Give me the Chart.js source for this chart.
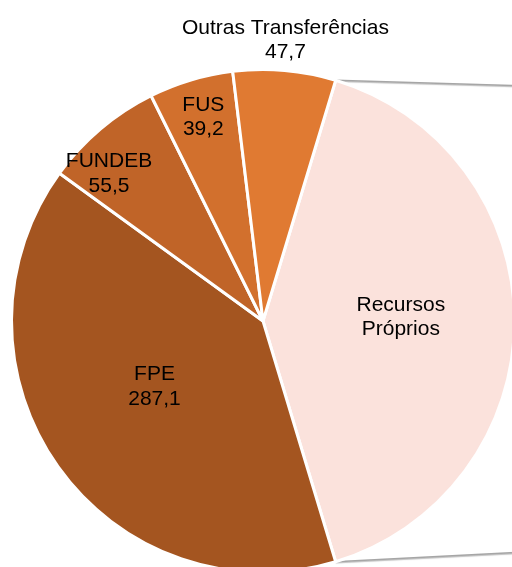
<!DOCTYPE html>
<html>
<head>
<meta charset="utf-8">
<style>
  html, body { margin: 0; padding: 0; background: #fff; }
  #wrap { position: relative; width: 512px; height: 567px; overflow: hidden; }
  #chart { position: absolute; left: 0; top: 0; }
</style>
</head>
<body>
<div id="wrap"><canvas id="chart" width="520" height="600"></canvas></div>
<script src="https://cdn.jsdelivr.net/npm/chart.js"></script>
<script>
// dados (R$ milhões)
const categorias = ["Recursos Próprios", "FPE", "FUNDEB", "FUS", "Outras Transferências"];
const valores = [294.4, 287.1, 55.5, 39.2, 47.7];
const rotulos = [["Recursos", "Próprios"], ["FPE", "287,1"], ["FUNDEB", "55,5"], ["FUS", "39,2"], ["Outras Transferências", "47,7"]];

const cores = ["#FBE2DC", "#A45520", "#C06428", "#D2702D", "#E07A32"];

// posição dos rótulos: fração do raio + ajuste em px
const labelRadius = [0.56, 0.5, 0.85, 0.855, 1.128];
const labelNudge = [[-3, -4], [-6, -7], [-16, 16], [2, 2], [-2, 2]];

// linhas de ligação ao gráfico secundário (fora da imagem)
const conectores = {
  id: "conectores",
  beforeDatasetsDraw(chart) {
    const arc = chart.getDatasetMeta(0).data[0];
    const { x, y, outerRadius: r, startAngle, endAngle } = arc.getProps(["x", "y", "outerRadius", "startAngle", "endAngle"], true);
    const ctx = chart.ctx;
    ctx.save();
    ctx.strokeStyle = "#A6A6A6";
    ctx.lineWidth = 1.6;
    ctx.shadowColor = "rgba(0,0,0,0.25)";
    ctx.shadowOffsetY = 1;
    ctx.shadowBlur = 1;
    const pontos = [[startAngle, -0.93], [endAngle, 0.91]];
    for (const [ang, fy] of pontos) {
      ctx.beginPath();
      ctx.moveTo(x + Math.cos(ang) * r, y + Math.sin(ang) * r);
      ctx.lineTo(x + r * 1.2, y + fy * r);
      ctx.stroke();
    }
    ctx.restore();
  }
};

const rotulosPlugin = {
  id: "rotulos",
  afterDatasetsDraw(chart) {
    const ctx = chart.ctx;
    const meta = chart.getDatasetMeta(0);
    ctx.save();
    ctx.fillStyle = "#000";
    ctx.font = "21px 'Liberation Sans', Arial, sans-serif";
    ctx.textAlign = "center";
    ctx.textBaseline = "middle";
    meta.data.forEach((arc, i) => {
      const p = arc.getProps(["x", "y", "outerRadius", "startAngle", "endAngle"], true);
      const mid = (p.startAngle + p.endAngle) / 2;
      const rr = p.outerRadius * labelRadius[i];
      const cx = p.x + Math.cos(mid) * rr + labelNudge[i][0];
      const cy = p.y + Math.sin(mid) * rr + labelNudge[i][1];
      const linhas = rotulos[i];
      const lh = 24.5;
      linhas.forEach((t, k) => {
        ctx.fillText(t, cx, cy + (k - (linhas.length - 1) / 2) * lh);
      });
    });
    ctx.restore();
  }
};

new Chart(document.getElementById("chart"), {
  type: "pie",
  data: {
    labels: categorias,
    datasets: [{
      data: valores,
      backgroundColor: cores,
      borderColor: "#fff",
      borderWidth: 3
    }]
  },
  options: {
    responsive: false,
    animation: false,
    rotation: 16.8,
    layout: { padding: { left: 10, top: 68, right: 4, bottom: 26 } },
    plugins: { legend: { display: false }, tooltip: { enabled: false } }
  },
  plugins: [conectores, rotulosPlugin]
});
</script>
</body>
</html>
